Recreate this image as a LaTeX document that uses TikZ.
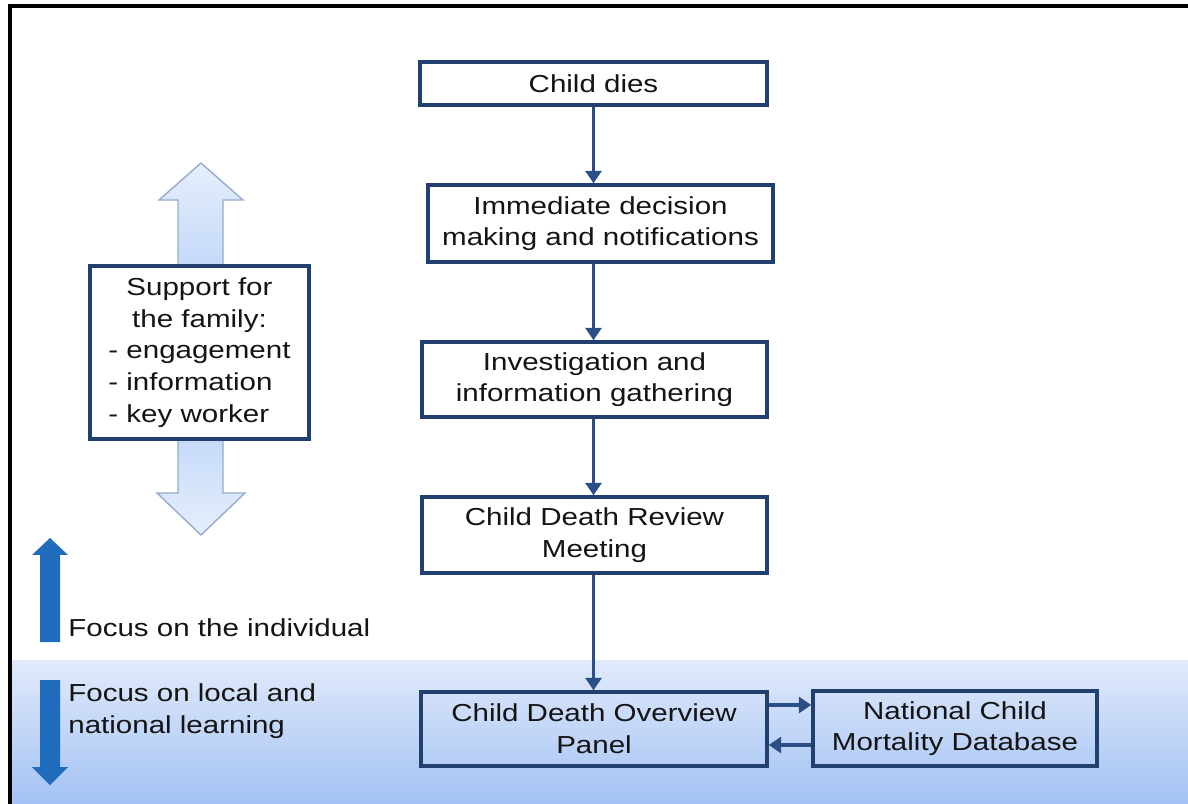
\documentclass[tikz,border=0pt]{standalone}
\usepackage{fontspec}
\setmainfont{Liberation Sans}[FakeStretch=1.2]
\usetikzlibrary{arrows.meta,positioning}
\definecolor{boxline}{RGB}{34,64,111}
\definecolor{flowline}{RGB}{42,78,133}
\definecolor{txt}{RGB}{20,20,20}
\definecolor{darkarrow}{RGB}{31,108,188}
\definecolor{bandtop}{RGB}{224,234,251}
\definecolor{bandbot}{RGB}{164,194,244}
\definecolor{lighttip}{RGB}{230,238,252}
\definecolor{lightmid}{RGB}{168,200,246}
\definecolor{lightedge}{RGB}{150,172,205}
\tikzset{
  flowbox/.style={draw=boxline, line width=2pt, fill=white, text=txt, align=center,
    font=\fontsize{14}{18}\selectfont, inner sep=0pt},
  panelbox/.style={flowbox, fill=none},
  flowarrow/.style={draw=flowline, line width=2.2pt, -{Triangle[length=7pt,width=9pt]}},
  labeltext/.style={text=txt, align=left, anchor=west, inner sep=0pt,
    font=\fontsize{14}{18}\selectfont},
}
\begin{document}
\begin{tikzpicture}[x=0.02cm,y=-0.02cm]
\useasboundingbox (0,0) rectangle (1188,804);
% bottom band
\shade[top color=bandtop, bottom color=bandbot] (10,660) rectangle (1188,804);
% frame
\draw[line width=2pt, black] (10,804) -- (10,6) -- (1188,6);

% big light double arrow behind the support box
\shade[top color=lighttip, bottom color=lighttip, middle color=lightmid, draw=lightedge, line width=0.8pt]
  (201,163) -- (243,200) -- (223,200) -- (223,493) -- (245,493) -- (201,535)
  -- (157,493) -- (178,493) -- (178,200) -- (159,200) -- cycle;

% support box
\node[flowbox, minimum width=4.38cm, minimum height=3.46cm] (support) at (199.5,352.5)
  {\renewcommand\arraystretch{1}\begin{tabular}{@{}l@{}}
   \multicolumn{1}{@{}c@{}}{Support for}\\
   \multicolumn{1}{@{}c@{}}{the family:}\\
   - engagement\\
   - information\\
   - key worker
   \end{tabular}};

% flow boxes
\node[flowbox, minimum width=6.94cm, minimum height=0.86cm] (dies) at (593.5,83.5) {Child dies};
\node[flowbox, minimum width=6.9cm, minimum height=1.54cm] (imm) at (600.5,223.5) {Immediate decision\\making and notifications};
\node[flowbox, minimum width=6.9cm, minimum height=1.5cm] (inv) at (594.5,379.5) {Investigation and\\information gathering};
\node[flowbox, minimum width=6.9cm, minimum height=1.52cm] (cdr) at (594.5,535) {Child Death Review\\Meeting};
\node[panelbox, minimum width=6.92cm, minimum height=1.48cm] (cdop) at (594,729) {Child Death Overview\\Panel};
\node[panelbox, minimum width=5.68cm, minimum height=1.5cm] (ncmd) at (955,728.5) {National Child\\Mortality Database};

% connectors
\draw[flowarrow] (dies.south) -- (dies.south |- imm.north);
\draw[flowarrow] (dies.south |- imm.south) -- (dies.south |- inv.north);
\draw[flowarrow] (dies.south |- inv.south) -- (dies.south |- cdr.north);
\draw[flowarrow] (dies.south |- cdr.south) -- (dies.south |- cdop.north);
\draw[flowarrow] ([yshift=0.48cm]cdop.east) -- ([yshift=0.48cm]cdop.east -| ncmd.west);
\draw[flowarrow] ([yshift=-0.32cm]cdop.east -| ncmd.west) -- ([yshift=-0.32cm]cdop.east);

% dark focus arrows
\fill[darkarrow] (50,538) -- (68,555) -- (60,555) -- (60,642) -- (40,642) -- (40,555) -- (32,555) -- cycle;
\fill[darkarrow] (40,680) -- (60,680) -- (60,767) -- (68,767) -- (50,785) -- (32,767) -- (40,767) -- cycle;

\node[labeltext] (indiv) at (68,628) {Focus on the individual};
\node[labeltext] (local) at (68,711) {Focus on local and\\national learning};
\end{tikzpicture}
\end{document}
